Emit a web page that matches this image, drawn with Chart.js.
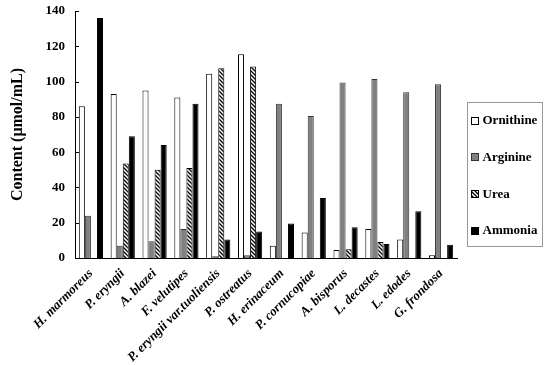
<!DOCTYPE html>
<html>
<head>
<meta charset="utf-8">
<script src="https://cdn.jsdelivr.net/npm/chart.js@4/dist/chart.umd.min.js"></script>
<style>
  html, body { margin: 0; padding: 0; background: #fff; }
  #wrap { width: 550px; height: 365px; }
</style>
</head>
<body>
<div id="wrap"><canvas id="chart" width="550" height="365"></canvas></div>
<script>
const species = ['H. marmoreus', 'P. eryngii', 'A. blazei', 'F. velutipes', 'P. eryngii var.tuoliensis',
  'P. ostreatus', 'H. erinaceum', 'P. cornucopiae', 'A. bisporus', 'L. decastes', 'L. edodes', 'G. frondosa'];
const ornithine = [86, 93, 95, 91, 104.5, 115.5, 7, 14.5, 4.5, 16.5, 10.5, 1.5];
const arginine  = [24, 7, 9.5, 16.5, 1, 1.5, 87.5, 80.5, 99.5, 101.5, 94, 98.5];
const urea      = [0, 53.5, 50, 51, 107.5, 108.5, 0, 0, 5, 9, 0, 0];
const ammonia   = [136, 69, 64, 87.5, 10.5, 15, 19.5, 34, 17.5, 8, 26.5, 7.5];
const yTicks = [0, 20, 40, 60, 80, 100, 120, 140];

const serif = '"Liberation Serif", "Times New Roman", serif';

// diagonal hatch for urea
function hatch() {
  const c = document.createElement('canvas');
  c.width = 4; c.height = 4;
  const g = c.getContext('2d');
  g.fillStyle = '#fff';
  g.fillRect(0, 0, 4, 4);
  g.strokeStyle = '#000';
  g.lineWidth = 1.3;
  g.beginPath();
  g.moveTo(-1, -1); g.lineTo(5, 5);
  g.moveTo(-1, 3); g.lineTo(1, 5);
  g.moveTo(3, -1); g.lineTo(5, 1);
  g.stroke();
  return g.createPattern(c, 'repeat');
}

// inward y ticks + framed legend on the right
const extras = {
  id: 'extras',
  afterDraw(chart) {
    const ctx = chart.ctx;
    const y = chart.scales.y;
    const area = chart.chartArea;
    ctx.save();
    ctx.strokeStyle = '#000';
    ctx.lineWidth = 1;
    yTicks.forEach(v => {
      const py = Math.round(y.getPixelForValue(v)) + 0.5;
      ctx.beginPath();
      ctx.moveTo(y.right, py);
      ctx.lineTo(y.right + 4, py);
      ctx.stroke();
    });

    const fx = Math.round(area.right) + 10.5, fy = 102.5;
    ctx.strokeStyle = '#999';
    ctx.strokeRect(fx, fy, 75, 144);
    ctx.font = 'bold 13px ' + serif;
    ctx.textBaseline = 'middle';
    ctx.textAlign = 'left';
    chart.data.datasets.forEach((d, i) => {
      const cy = 120 + i * 36.7;
      const bx = fx + 4, by = Math.round(cy - 3.5);
      ctx.fillStyle = d.backgroundColor;
      ctx.fillRect(bx, by, 7, 7);
      ctx.strokeStyle = d.borderColor;
      ctx.strokeRect(bx, by + 0.5, 7, 7);
      ctx.fillStyle = '#000';
      ctx.fillText(d.label, bx + 11, cy + 1);
    });
    ctx.restore();
  }
};

const ds = (label, data, bg, border) => ({
  label, data, backgroundColor: bg, borderColor: border, borderWidth: 1,
  categoryPercentage: 0.76, barPercentage: 1.0
});

new Chart(document.getElementById('chart'), {
  type: 'bar',
  data: {
    labels: species,
    datasets: [
      ds('Ornithine', ornithine, '#ffffff', '#000000'),
      ds('Arginine', arginine, '#808080', '#333333'),
      ds('Urea', urea, hatch(), '#000000'),
      ds('Ammonia', ammonia, '#000000', '#000000')
    ]
  },
  options: {
    responsive: false,
    animation: false,
    layout: { padding: { left: 4, right: 93, top: 11, bottom: 0 } },
    plugins: {
      tooltip: { enabled: false },
      legend: { display: false }
    },
    scales: {
      x: {
        grid: { display: false, drawTicks: false },
        border: { color: '#000', width: 1 },
        afterFit: s => { s.height = 107; },
        ticks: {
          color: '#000',
          minRotation: 45,
          maxRotation: 45,
          autoSkip: false,
          padding: 8,
          font: { family: serif, size: 13, weight: 'bold', style: 'italic' }
        }
      },
      y: {
        min: 0,
        max: 140,
        afterBuildTicks: s => { s.ticks = yTicks.map(v => ({ value: v })); },
        afterFit: s => { s.width = 71; s.paddingTop = 0; s.paddingBottom = 0; },
        grid: { display: false, drawTicks: false },
        border: { color: '#000', width: 1 },
        title: {
          display: true,
          text: 'Content (μmol/mL)',
          color: '#000',
          padding: { bottom: 6 },
          font: { family: serif, size: 16, weight: 'bold' }
        },
        ticks: {
          color: '#000',
          padding: 10,
          font: { family: serif, size: 13, weight: 'bold' }
        }
      }
    }
  },
  plugins: [extras]
});
</script>
</body>
</html>
